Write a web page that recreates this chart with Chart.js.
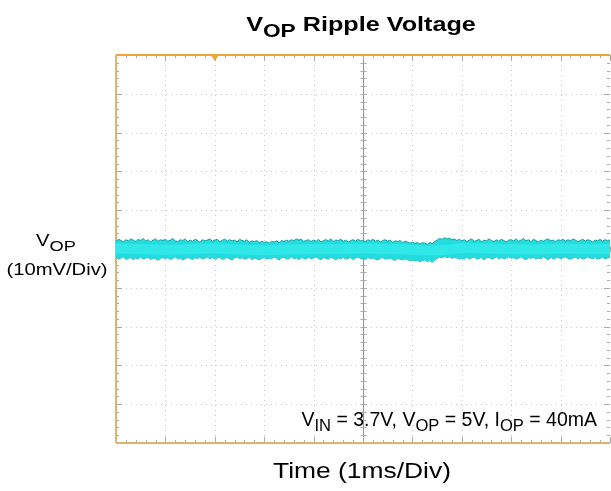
<!DOCTYPE html>
<html>
<head>
<meta charset="utf-8">
<script src="https://cdn.jsdelivr.net/npm/chart.js@4.4.1/dist/chart.umd.min.js"></script>
<style>
  html, body { margin: 0; padding: 0; background: #fff; }
  #wrap { position: relative; width: 611px; height: 491px; overflow: hidden; font-family: "Liberation Sans", Arial, sans-serif; color: #000; }
  #scope { position: absolute; left: 0; top: 0; }
  .lbl { position: absolute; line-height: 1; white-space: nowrap; }
  .lbl sub { font-size: 0.9em; vertical-align: -0.32em; line-height: 0; }
  #title { left: 361px; top: 13px; font-size: 21px; font-weight: bold; transform: translateX(-50%) scaleX(1.2); }
  #xlabel { left: 362px; top: 460px; font-size: 22px; transform: translateX(-50%) scaleX(1.2); }
  #ylabel1 { left: 56px; top: 232px; font-size: 17px; transform: translateX(-50%) scaleX(1.19); }
  #ylabel2 { left: 57px; top: 261px; font-size: 17px; transform: translateX(-50%) scaleX(1.19); }
  #note { right: 14px; top: 410px; font-size: 19.5px; }
  #note sub { font-size: 0.85em; }
</style>
</head>
<body>
<div id="wrap">
  <canvas id="scope" width="611" height="491"></canvas>
  <div class="lbl" id="title">V<sub>OP</sub> Ripple Voltage</div>
  <div class="lbl" id="ylabel1">V<sub>OP</sub></div>
  <div class="lbl" id="ylabel2">(10mV/Div)</div>
  <div class="lbl" id="note">V<sub>IN</sub> = 3.7V, V<sub>OP</sub> = 5V, I<sub>OP</sub> = 40mA</div>
  <div class="lbl" id="xlabel">Time (1ms/Div)</div>
</div>
<script>
// time base: 1 ms/div, trigger two divisions from the left edge
const timeStart = -2;
const timeEnd = 8;
const timeCentre = 3;
const sampleStep = 0.05;
// vertical: 10 mV/div, trace centred on screen
const voltMin = -50;
const voltMax = 50;

// ripple envelope, mV (peaks above / below the average level), one row per division
const rippleHigh = [
  2.0, 2.5, 2.2, 1.8, 2.4, 2.1, 2.6, 2.3, 1.9, 2.5, 2.2, 2.7, 2.1, 2.4, 1.8, 2.3, 2.6, 2.0, 2.4, 2.2,
  2.5, 2.0, 2.3, 2.7, 2.1, 1.9, 2.4, 2.2, 2.6, 1.8, 2.3, 2.0, 2.5, 2.2, 1.7, 2.4, 2.1, 2.3, 2.6, 2.0,
  2.3, 2.5, 1.9, 2.2, 2.6, 2.0, 2.4, 2.1, 2.3, 1.8, 2.5, 2.2, 2.0, 2.4, 1.7, 2.1, 1.9, 2.2, 1.6, 2.0,
  1.7, 1.9, 1.5, 2.0, 1.8, 2.1, 1.6, 2.2, 1.9, 2.3, 2.0, 2.4, 2.1, 2.6, 2.3, 2.5, 2.0, 2.2, 2.4, 1.9,
  2.3, 2.0, 2.5, 1.8, 2.2, 2.4, 2.1, 2.6, 1.9, 2.3, 2.2, 2.5, 2.0, 2.3, 1.8, 2.2, 2.4, 2.0, 2.5, 2.1,
  2.2, 1.9, 2.4, 2.1, 2.5, 2.0, 2.3, 1.8, 2.2, 2.4, 2.0, 2.3, 1.7, 2.1, 1.9, 2.2, 1.6, 2.0, 1.8, 1.5,
  1.8, 1.4, 1.7, 1.3, 1.6, 1.5, 1.2, 1.7, 1.4, 1.9, 2.3, 2.7, 2.5, 2.9, 2.6, 2.8, 2.4, 2.6, 2.2, 2.5,
  2.1, 2.4, 1.9, 2.3, 2.6, 2.0, 2.2, 2.5, 1.8, 2.3, 2.1, 2.6, 2.2, 1.9, 2.4, 2.0, 2.5, 2.2, 1.8, 2.3,
  2.4, 2.1, 2.6, 2.0, 2.3, 2.7, 2.1, 2.4, 1.9, 2.5, 2.2, 1.8, 2.3, 2.0, 2.4, 2.6, 2.1, 2.3, 1.9, 2.4,
  2.2, 2.5, 2.0, 2.4, 2.1, 2.6, 2.3, 1.9, 2.2, 2.5, 2.0, 2.4, 2.2, 1.8, 2.3, 2.1, 2.5, 2.0, 2.4, 2.2,
  2.3
];
const rippleLow = [
  -2.1, -2.6, -2.3, -2.0, -2.7, -2.4, -2.2, -2.8, -2.3, -2.5, -2.0, -2.6, -2.4, -2.1, -2.7, -2.3, -2.5, -2.9, -2.4, -2.2,
  -2.5, -2.2, -2.7, -2.4, -2.0, -2.6, -2.3, -2.8, -2.5, -2.1, -2.4, -2.7, -2.2, -2.5, -2.0, -2.6, -2.3, -2.1, -2.5, -2.2,
  -2.6, -2.3, -2.1, -2.7, -2.4, -2.2, -2.5, -2.8, -2.3, -2.0, -2.5, -2.2, -2.6, -2.4, -2.1, -2.7, -2.3, -2.5, -2.8, -2.4,
  -2.2, -2.6, -2.3, -2.5, -2.0, -2.4, -2.8, -2.3, -2.1, -2.6, -2.4, -2.0, -2.5, -2.3, -2.7, -2.2, -2.4, -2.6, -2.1, -2.5,
  -2.3, -2.0, -2.5, -2.7, -2.2, -2.4, -2.6, -2.1, -2.4, -2.8, -2.3, -2.5, -2.1, -2.6, -2.4, -2.2, -2.7, -2.3, -2.0, -2.5,
  -2.4, -2.7, -2.2, -2.5, -2.3, -2.6, -2.8, -2.4, -2.2, -2.6, -2.5, -2.3, -2.7, -2.9, -2.4, -2.6, -2.8, -2.5, -2.7, -3.0,
  -2.8, -3.1, -2.9, -3.3, -3.0, -2.8, -3.2, -3.0, -3.4, -2.9, -2.4, -2.1, -2.3, -1.9, -2.2, -2.0, -2.4, -2.1, -2.3, -2.6,
  -2.3, -2.6, -2.1, -2.5, -2.3, -2.0, -2.6, -2.4, -2.2, -2.7, -2.3, -2.1, -2.5, -2.4, -2.0, -2.6, -2.2, -2.5, -2.3, -2.0,
  -2.4, -2.2, -2.6, -2.3, -2.0, -2.5, -2.7, -2.2, -2.4, -2.1, -2.6, -2.3, -2.5, -2.0, -2.4, -2.7, -2.2, -2.5, -2.3, -2.1,
  -2.5, -2.2, -2.0, -2.4, -2.6, -2.3, -2.1, -2.5, -2.2, -2.6, -2.4, -2.0, -2.3, -2.5, -2.2, -2.6, -2.4, -2.1, -2.5, -2.3,
  -2.1
];
// averaged trace level, mV, every half division
const avgTimes = [-2, -1.5, -1, -0.5, 0, 0.5, 1, 1.5, 2, 2.5, 3, 3.5, 4, 4.5, 5, 5.5, 6, 6.5, 7, 7.5, 8];
const avgLevel = [0.1, 0, -0.2, 0, 0.1, -0.1, -0.3, -0.1, 0, 0, 0.1, 0, -0.2, -0.4, 0.2, 0.1, 0, -0.1, 0.1, 0, 0];

const toPoints = arr => arr.map((v, i) => ({ x: timeStart + i * sampleStep, y: v }));

// scope graticule: dotted divisions, centre cross with minor ticks, screen edges
const graticule = {
  id: 'graticule',
  beforeDatasetsDraw(chart) {
    const { ctx, chartArea: a, scales: { x, y } } = chart;
    const line = (x1, y1, x2, y2) => { ctx.beginPath(); ctx.moveTo(x1, y1); ctx.lineTo(x2, y2); ctx.stroke(); };
    const px = v => Math.round(x.getPixelForValue(v)) + 0.5;
    const py = v => Math.round(y.getPixelForValue(v)) + 0.5;
    ctx.save();

    ctx.strokeStyle = '#c6c6c6';
    ctx.lineWidth = 1;
    ctx.setLineDash([1, 4]);
    for (let t = timeStart + 1; t < timeEnd; t++) {
      if (t !== timeCentre) line(px(t), a.top, px(t), a.bottom);
    }
    for (let v = voltMin + 10; v < voltMax; v += 10) {
      if (v !== 0) line(a.left, py(v), a.right, py(v));
    }
    ctx.setLineDash([]);

    // centre cross
    ctx.strokeStyle = '#9c9488';
    line(px(timeCentre), a.top, px(timeCentre), a.bottom);
    line(a.left, py(0), a.right, py(0));

    // minor ticks, 5 per division
    ctx.strokeStyle = '#a8a8a8';
    for (let k = 0; k <= 50; k++) {
      const t = timeStart + k * 0.2;
      const major = k % 5 === 0;
      const xp = px(t);
      line(xp, py(0) - 3, xp, py(0) + 3);
      line(xp, a.top, xp, a.top + (major ? 6 : 3));
      line(xp, a.bottom, xp, a.bottom - (major ? 6 : 3));
    }
    for (let k = 0; k <= 50; k++) {
      const v = voltMin + k * 2;
      const major = k % 5 === 0;
      const yp = py(v);
      line(px(timeCentre) - 3, yp, px(timeCentre) + 3, yp);
      line(a.left, yp, a.left + (major ? 6 : 3), yp);
      line(a.right, yp, a.right - (major ? 6 : 3), yp);
    }

    // screen edges
    ctx.lineWidth = 2;
    ctx.strokeStyle = '#dcb46c';
    line(a.left, a.top, a.left, a.bottom);
    line(a.left, a.bottom, a.right, a.bottom);
    ctx.strokeStyle = '#f2a43a';
    line(a.left, a.top, a.right, a.top);

    // trigger position marker
    const tx = x.getPixelForValue(0);
    ctx.fillStyle = '#f2a43a';
    ctx.beginPath();
    ctx.moveTo(tx - 4, a.top);
    ctx.lineTo(tx + 4, a.top);
    ctx.lineTo(tx, a.top + 6);
    ctx.closePath();
    ctx.fill();
    ctx.restore();
  }
};

new Chart(document.getElementById('scope'), {
  type: 'line',
  data: {
    datasets: [
      {
        label: 'avg',
        data: avgTimes.map((t, i) => ({ x: t, y: avgLevel[i] })),
        borderColor: '#30e8e8',
        borderWidth: 10,
        pointRadius: 0,
        tension: 0.4,
        fill: false
      },
      {
        label: 'high',
        data: toPoints(rippleHigh),
        borderColor: '#14a2a6',
        backgroundColor: '#22dcdf',
        borderWidth: 1,
        pointRadius: 0,
        tension: 0,
        fill: '+1'
      },
      {
        label: 'low',
        data: toPoints(rippleLow),
        borderColor: '#14a2a6',
        borderWidth: 1,
        pointRadius: 0,
        tension: 0,
        fill: false
      }
    ]
  },
  options: {
    responsive: false,
    animation: false,
    devicePixelRatio: 1,
    layout: { padding: { left: 116, top: 55, right: 1, bottom: 48 } },
    plugins: { legend: { display: false }, tooltip: { enabled: false } },
    scales: {
      x: { type: 'linear', min: timeStart, max: timeEnd, display: false },
      y: { type: 'linear', min: voltMin, max: voltMax, display: false }
    }
  },
  plugins: [graticule]
});
</script>
</body>
</html>
